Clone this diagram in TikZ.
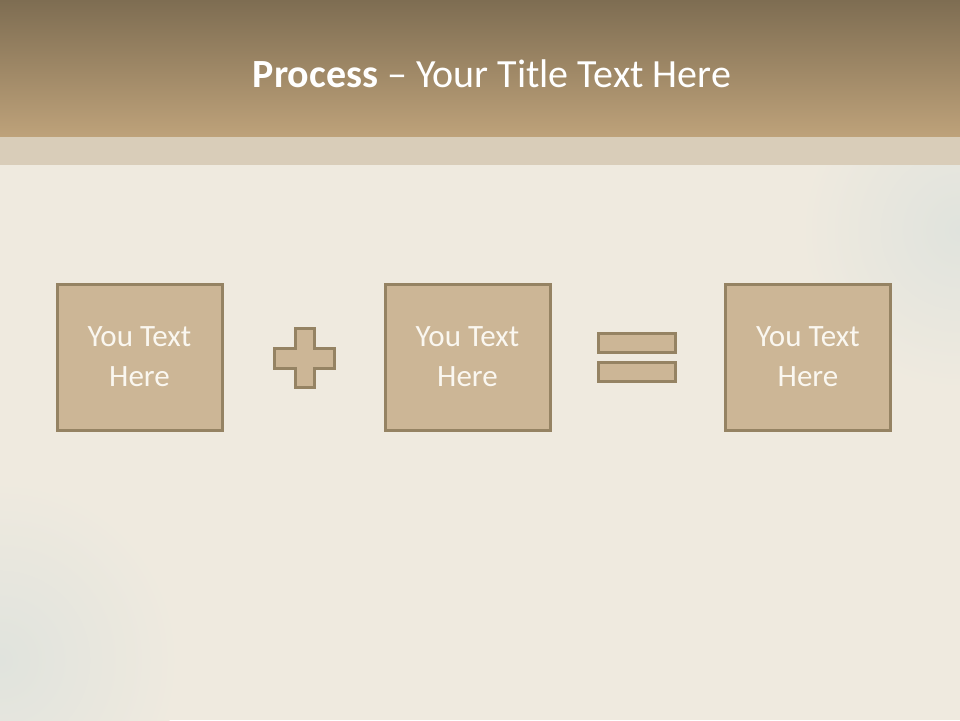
\documentclass[tikz,border=0pt]{standalone}
\usepackage{fontspec}
\setmainfont{Carlito}
\usetikzlibrary{positioning}

\definecolor{headtop}{HTML}{7E6D52}
\definecolor{headbot}{HTML}{BEA27A}
\definecolor{bandcol}{HTML}{D9CDB9}
\definecolor{paper}{HTML}{EFEADF}
\definecolor{paperblue}{HTML}{E0E3DD}
\definecolor{boxfill}{HTML}{CCB696}
\definecolor{boxline}{HTML}{958363}
\definecolor{txtcol}{HTML}{FAF7F0}

\begin{document}
\begin{tikzpicture}[x=1pt,y=-1pt,
  stepbox/.style={draw=boxline,fill=boxfill,line width=3pt,minimum width=165pt,minimum height=146pt,
    inner sep=0pt,align=center,text=txtcol,font=\fontsize{31}{40}\selectfont},
  sign/.style={draw=boxline,fill=boxfill,line width=3pt}]
  % Page and header
  \useasboundingbox (0,0) rectangle (960,720);
  \clip (0,0) rectangle (960,720);
  \fill[paper] (0,0) rectangle (960,720);
  \shade[inner color=paperblue,outer color=paper] (960,230) circle (160pt);
  \shade[inner color=paperblue,outer color=paper] (0,660) circle (180pt);
  \shade[top color=headtop,bottom color=headbot] (0,0) rectangle (960,137);
  \fill[bandcol] (0,137) rectangle (960,165);
  \node[anchor=base,text=white,font=\fontsize{40}{48}\selectfont] (title) at (492,87)
    {\textbf{Process} – Your Title Text Here};
  % Boxes
  \node[stepbox] (first) at (139.5,357) {You Text\\Here};
  \node[stepbox] (second) at (467.5,357) {You Text\\Here};
  \node[stepbox] (result) at (808,357) {You Text\\Here};
  % Plus sign
  \draw[sign] (295,328) -- (314,328) -- (314,348) -- (334,348) -- (334,368) -- (314,368)
    -- (314,387) -- (295,387) -- (295,368) -- (274,368) -- (274,348) -- (295,348) -- cycle;
  % Equals sign
  \foreach \y in {333,362}{\draw[sign] (598,\y) rectangle (675,\y+19);}
\end{tikzpicture}
\end{document}
